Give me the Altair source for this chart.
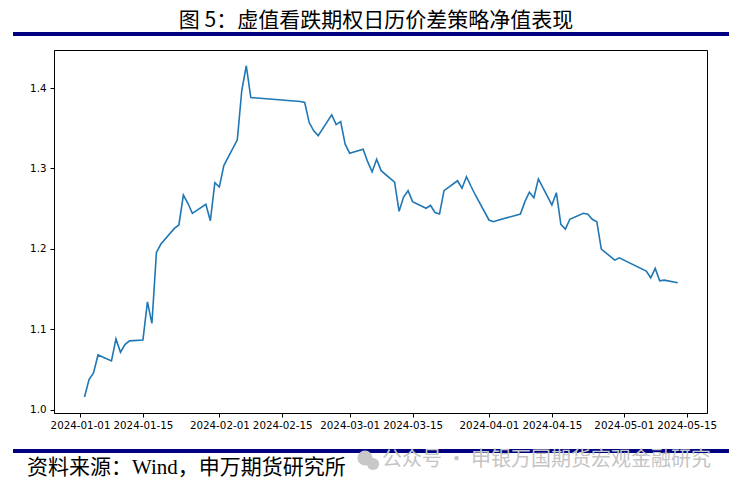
import altair as alt
import pandas as pd

# ---- data ----
dates = [
    "2024/01/02", "2024/01/03", "2024/01/04", "2024/01/05",
    "2024/01/08", "2024/01/09", "2024/01/10", "2024/01/11", "2024/01/12",
    "2024/01/15", "2024/01/16", "2024/01/17", "2024/01/18", "2024/01/19",
    "2024/01/22", "2024/01/23", "2024/01/24", "2024/01/25", "2024/01/26",
    "2024/01/29", "2024/01/30", "2024/01/31", "2024/02/01", "2024/02/02",
    "2024/02/05", "2024/02/06", "2024/02/07", "2024/02/08",
    "2024/02/19", "2024/02/20", "2024/02/21", "2024/02/22", "2024/02/23",
    "2024/02/26", "2024/02/27", "2024/02/28", "2024/02/29", "2024/03/01",
    "2024/03/04", "2024/03/05", "2024/03/06", "2024/03/07", "2024/03/08",
    "2024/03/11", "2024/03/12", "2024/03/13", "2024/03/14", "2024/03/15",
    "2024/03/18", "2024/03/19", "2024/03/20", "2024/03/21", "2024/03/22",
    "2024/03/25", "2024/03/26", "2024/03/27", "2024/03/28", "2024/03/29",
    "2024/04/01", "2024/04/02", "2024/04/03",
    "2024/04/08", "2024/04/09", "2024/04/10", "2024/04/11", "2024/04/12",
    "2024/04/15", "2024/04/16", "2024/04/17", "2024/04/18", "2024/04/19",
    "2024/04/22", "2024/04/23", "2024/04/24", "2024/04/25", "2024/04/26",
    "2024/04/29", "2024/04/30",
    "2024/05/06", "2024/05/07", "2024/05/08", "2024/05/09", "2024/05/10",
    "2024/05/13",
]
nav = [
    1.0157, 1.0374, 1.0456, 1.0680,
    1.0606, 1.0880, 1.0714, 1.0810, 1.0855,
    1.0867, 1.1341, 1.1072, 1.1956, 1.2060,
    1.2255, 1.2297, 1.2670, 1.2567, 1.2442,
    1.2555, 1.2350, 1.2824, 1.2770, 1.3036,
    1.3356, 1.3973, 1.4278, 1.3883,
    1.3833, 1.3821, 1.3571, 1.3468, 1.3409,
    1.3667, 1.3546, 1.3584, 1.3302, 1.3190,
    1.3240, 1.3085, 1.2957, 1.3115, 1.2973,
    1.2829, 1.2467, 1.2645, 1.2723, 1.2587,
    1.2505, 1.2540, 1.2452, 1.2434, 1.2724,
    1.2847, 1.2754, 1.2898, 1.2779, 1.2667,
    1.2359, 1.2338, 1.2355,
    1.2434, 1.2587, 1.2704, 1.2637, 1.2870,
    1.2546, 1.2699, 1.2305, 1.2247, 1.2368,
    1.2442, 1.2430, 1.2368, 1.2338, 1.1998,
    1.1860, 1.1889,
    1.1723, 1.1640, 1.1757, 1.1602, 1.1611,
    1.1578,
]
x_ticks = [(2024, 1, 1), (2024, 1, 15), (2024, 2, 1), (2024, 2, 15), (2024, 3, 1),
           (2024, 3, 15), (2024, 4, 1), (2024, 4, 15), (2024, 5, 1), (2024, 5, 15)]
y_ticks = [1.0, 1.1, 1.2, 1.3, 1.4]

title_text = "图 5：虚值看跌期权日历价差策略净值表现"
source_text = "资料来源：Wind，申万期货研究所"
watermark_text = "公众号 · 申银万国期货宏观金融研究"

df = pd.DataFrame({"date": dates, "nav": nav})

W, H = 653, 363
PAD = {"left": 46, "top": 42, "right": 22, "bottom": 66}

x_scale = alt.Scale(domain=[alt.DateTime(year=2023, month=12, date=26, hours=5),
                            alt.DateTime(year=2024, month=5, date=19, hours=12, minutes=30)])
y_scale = alt.Scale(domain=[0.9958, 1.4474], nice=False, zero=False)

axis_common = dict(title=None, grid=False, labelFont="DejaVu Sans", labelFontSize=10.3,
                   labelColor="#000000", tickColor="#000000", domainColor="#000000",
                   tickSize=4)

line = alt.Chart(df).mark_line(color="#1f77b4", strokeWidth=1.6).encode(
    x=alt.X("date:T", scale=x_scale,
            axis=alt.Axis(values=[alt.DateTime(year=a, month=b, date=c) for a, b, c in x_ticks],
                          format="%Y-%m-%d", labelAngle=0, labelOverlap=False,
                          labelFlush=False, labelPadding=3, **axis_common)),
    y=alt.Y("nav:Q", scale=y_scale,
            axis=alt.Axis(values=y_ticks, format=".1f", labelOverlap=False,
                          labelPadding=4, **axis_common)),
)

one = pd.DataFrame({"k": [0]})

title = alt.Chart(one).mark_text(
    text=title_text, font="Noto Sans CJK SC", fontSize=21, color="#000000",
    align="center", baseline="alphabetic"
).encode(x=alt.value(322), y=alt.value(-23))

top_rule = alt.Chart(one).mark_rule(color="#000080", strokeWidth=4).encode(
    x=alt.value(-41), x2=alt.value(675), y=alt.value(-16))
bottom_rule = alt.Chart(one).mark_rule(color="#000080", strokeWidth=4).encode(
    x=alt.value(-41), x2=alt.value(675), y=alt.value(401))

source = alt.Chart(one).mark_text(
    text=source_text, font="Liberation Serif, Noto Sans CJK SC", fontSize=21,
    color="#000000", align="left", baseline="alphabetic"
).encode(x=alt.value(-27), y=alt.value(424))

icon1 = alt.Chart(one).mark_circle(color="#c8c8c8", opacity=1, size=230).encode(
    x=alt.value(311), y=alt.value(408))
icon2 = alt.Chart(one).mark_circle(color="#c8c8c8", opacity=1, size=150).encode(
    x=alt.value(319), y=alt.value(414))

watermark = alt.Chart(one).mark_text(
    text=watermark_text, font="Noto Sans CJK SC", fontSize=20, color="#c4c4c4",
    align="left", baseline="middle"
).encode(x=alt.value(328), y=alt.value(410))

chart = alt.layer(line, title, top_rule, bottom_rule, source, icon1, icon2, watermark).properties(
    width=W, height=H,
    autosize=alt.AutoSizeParams(type="none"),
    padding=PAD,
    background="#ffffff",
).configure_view(stroke="#000000", strokeWidth=1)

chart.save("out.html", embed_options={"renderer": "svg", "actions": False})
